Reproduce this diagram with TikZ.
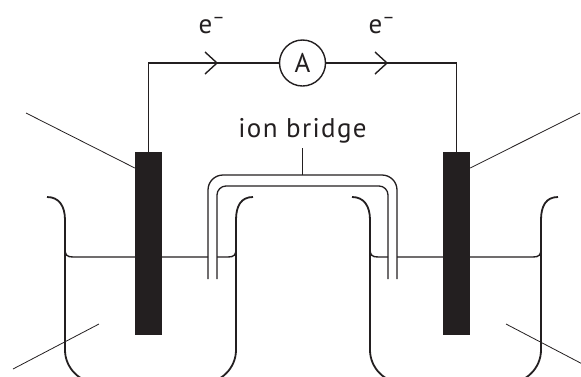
\documentclass[tikz,border=0pt]{standalone}
\usepackage{fontspec}
\setmainfont{PT Sans}
\newfontfamily\labelfont[LetterSpace=5]{PT Sans}
\usetikzlibrary{positioning}

\definecolor{ink}{HTML}{231F20}

\tikzset{
    beaker/.style={draw=ink, line width=1.8pt},
    liquid/.style={draw=ink, line width=1.4pt},
    wire/.style={draw=ink, line width=1.4pt},
    tube/.style={draw=ink, line width=1.3pt},
    leader/.style={draw=ink, line width=0.8pt},
    chev/.style={draw=ink, line width=1.4pt},
    electrode/.style={fill=ink, draw=none, inner sep=0pt, minimum width=27pt, minimum height=183pt},
    meter/.style={circle, draw=ink, line width=1.4pt, minimum size=46pt, inner sep=0pt},
    txt/.style={text=ink, inner sep=0pt, font=\labelfont\fontsize{27}{31}\selectfont}
}

\begin{document}
\begin{tikzpicture}[x=1pt, y=-1pt]
    \useasboundingbox (0,0) rectangle (581,376);
    \clip (0,0) rectangle (581,376);

    % beakers
    \draw[beaker] (47,197) .. controls (59,197) and (65,206) .. (65,220)
        -- (65,350) .. controls (65,368) and (80,383) .. (98,383)
        -- (203,383) .. controls (221,383) and (236,368) .. (236,350)
        -- (236,220) .. controls (236,206) and (241,197) .. (253,197);
    \draw[beaker] (352,197) .. controls (364,197) and (370,206) .. (370,220)
        -- (370,350) .. controls (370,368) and (385,383) .. (403,383)
        -- (508,383) .. controls (526,383) and (541,368) .. (541,350)
        -- (541,220) .. controls (541,206) and (546,197) .. (558,197);

    % solution levels
    \draw[liquid] (65,249) .. controls (65,255) and (67,257) .. (73,257) -- (208,257);
    \draw[liquid] (217,257) -- (228,257) .. controls (234,257) and (236,255) .. (236,249);
    \draw[liquid] (370,249) .. controls (370,255) and (372,257) .. (378,257) -- (388,257);
    \draw[liquid] (397,257) -- (533,257) .. controls (539,257) and (541,255) .. (541,249);

    % ion bridge
    \draw[tube, rounded corners=15pt] (208,279) -- (208,175) -- (397,175) -- (397,279);
    \draw[tube, rounded corners=9pt] (217,279) -- (217,186) -- (388,186) -- (388,279);
    \coordinate (bridgeTop) at (302.5,175);
    \node[txt, anchor=base] (lblBridge) at (302.5,137) {ion bridge};
    \draw[leader] (302.5,148) -- (bridgeTop);

    % electrodes
    \node[electrode] (elL) at (148.5,243.5) {};
    \node[electrode] (elR) at (456.5,243.5) {};

    % external circuit
    \node[meter] (A) at (302.5,63) {};
    \node[txt] at (A) {A};
    \coordinate (kL) at (elL.north |- A);
    \coordinate (kR) at (elR.north |- A);
    \draw[wire] (elL.north) -- (kL) -- (A.west);
    \draw[wire] (A.east) -- (kR) -- (elR.north);

    \coordinate (tipL) at (217,63);
    \coordinate (tipR) at (387,63);
    \draw[chev] ([xshift=-12pt,yshift=11pt]tipL) -- (tipL) -- ([xshift=-12pt,yshift=-11pt]tipL);
    \draw[chev] ([xshift=-12pt,yshift=11pt]tipR) -- (tipR) -- ([xshift=-12pt,yshift=-11pt]tipR);
    \node[txt, anchor=base] (eL) at (212,33) {e\textsuperscript{–}};
    \node[txt, anchor=base] (eR) at (382,33) {e\textsuperscript{–}};

    % leader lines
    \coordinate (ptUL) at (26,113);
    \coordinate (ptUR) at (580,113);
    \coordinate (ptLL) at (13,369);
    \coordinate (ptLR) at (592,369);
    \draw[leader] (ptUL) -- (elL.west |- 0,168);
    \draw[leader] (ptUR) -- (elR.east |- 0,168);
    \draw[leader] (ptLL) -- (99,324);
    \draw[leader] (ptLR) -- (506,324);
\end{tikzpicture}
\end{document}
